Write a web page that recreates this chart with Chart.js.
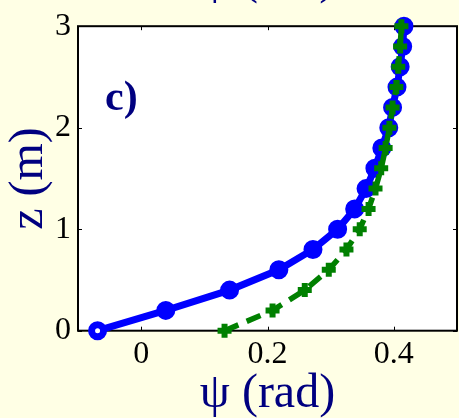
<!DOCTYPE html>
<html>
<head>
<meta charset="utf-8">
<script src="https://cdn.jsdelivr.net/npm/chart.js@4/dist/chart.umd.min.js"></script>
<style>
  html, body { margin: 0; padding: 0; background: #ffffe5; overflow: hidden; }
  #wrap { width: 459px; height: 418px; overflow: hidden; }
</style>
</head>
<body>
<div id="wrap"><canvas id="myChart" width="470" height="418"></canvas></div>
<script>
// depth below the surface (m) and tilt angle psi (rad) at each depth
var depths = [0, 0.2, 0.4, 0.6, 0.8, 1.0, 1.2, 1.4, 1.6, 1.8, 2.0, 2.2, 2.4, 2.6, 2.8, 3.0];
var psiCircles = [-0.069, 0.039, 0.140, 0.218, 0.272, 0.311, 0.338, 0.356, 0.370, 0.381, 0.392, 0.398, 0.405, 0.410, 0.414, 0.416];
var psiCrosses = [0.132, 0.208, 0.259, 0.297, 0.325, 0.346, 0.360, 0.371, 0.380, 0.387, 0.393, 0.398, 0.404, 0.407, 0.410, 0.412];

var xTicks = [0, 0.2, 0.4];
var yTicks = [0, 1, 2, 3];
var xTitle = 'ψ (rad)';
var yTitle = 'z (m)';
var panelLabel = 'c)';

var navy = '#000080';
var serif = '"Liberation Serif", "Times New Roman", serif';

function toPoints(xs) {
  var pts = [];
  for (var i = 0; i < xs.length; i++) {
    pts.push({ x: xs[i], y: depths[i] });
  }
  return pts;
}

// first circle is drawn hollow
var circleFill = psiCircles.map(function (v, i) { return i === 0 ? '#ffffff' : '#0000ff'; });

// figure background, white axes, box with inward ticks, panel letter
var axesBox = {
  id: 'axesBox',
  beforeDraw: function (chart) {
    var ctx = chart.ctx, a = chart.chartArea;
    ctx.save();
    ctx.fillStyle = '#ffffe5';
    ctx.fillRect(0, 0, chart.width, chart.height);
    ctx.fillStyle = '#ffffff';
    ctx.fillRect(a.left, a.top, a.right - a.left, a.bottom - a.top);
    ctx.restore();
  },
  beforeDatasetsDraw: function (chart) {
    var ctx = chart.ctx, a = chart.chartArea;
    var xs = chart.scales.x, ys = chart.scales.y;
    ctx.save();
    ctx.strokeStyle = '#000';
    ctx.lineWidth = 1;
    ctx.beginPath();
    xTicks.forEach(function (v) {
      var px = Math.round(xs.getPixelForValue(v)) + 0.5;
      ctx.moveTo(px, a.bottom); ctx.lineTo(px, a.bottom - 4);
      ctx.moveTo(px, a.top); ctx.lineTo(px, a.top + 4);
    });
    yTicks.forEach(function (v) {
      var py = Math.round(ys.getPixelForValue(v)) + 0.5;
      ctx.moveTo(a.left, py); ctx.lineTo(a.left + 4, py);
      ctx.moveTo(a.right, py); ctx.lineTo(a.right - 4, py);
    });
    ctx.stroke();
    ctx.lineWidth = 2;
    ctx.strokeRect(a.left, a.top, a.right - a.left, a.bottom - a.top);
    ctx.restore();
  },
  afterDraw: function (chart) {
    var ctx = chart.ctx, a = chart.chartArea;
    ctx.save();
    ctx.fillStyle = navy;
    ctx.textBaseline = 'alphabetic';
    ctx.font = 'bold 42px ' + serif;
    ctx.textAlign = 'left';
    ctx.fillText(panelLabel, 105, 110);
    // the axis title of the panel above, mostly off the top edge
    ctx.font = '48px ' + serif;
    ctx.textAlign = 'center';
    ctx.fillText(xTitle, (a.left + a.right) / 2, -7);
    ctx.restore();
  }
};

var ctx = document.getElementById('myChart').getContext('2d');
var myChart = new Chart(ctx, {
  type: 'scatter',
  data: {
    datasets: [{
      label: 'circles',
      data: toPoints(psiCircles),
      showLine: true,
      borderColor: '#0000ff',
      borderWidth: 7,
      pointStyle: 'circle',
      pointRadius: 6,
      pointBorderWidth: 7,
      pointBorderColor: '#0000ff',
      pointBackgroundColor: circleFill,
      clip: false,
      order: 2
    },
    {
      label: 'crosses',
      data: toPoints(psiCrosses),
      showLine: true,
      borderColor: '#008000',
      borderWidth: 5.5,
      borderDash: [15, 9],
      pointStyle: 'cross',
      pointRadius: 7,
      pointBorderWidth: 6,
      pointBorderColor: '#008000',
      pointBackgroundColor: '#008000',
      clip: false,
      order: 1
    }]
  },
  options: {
    responsive: false,
    animation: false,
    devicePixelRatio: 1,
    layout: { padding: { top: 22.7, right: 1, left: 0, bottom: 0 } },
    elements: { line: { tension: 0 } },
    plugins: {
      legend: { display: false },
      tooltip: { enabled: false }
    },
    scales: {
      x: {
        type: 'linear',
        min: -0.1,
        max: 0.5,
        grid: { display: false, drawTicks: false },
        border: { display: false },
        afterBuildTicks: function (scale) {
          scale.ticks = xTicks.map(function (v) { return { value: v }; });
        },
        afterFit: function (scale) { scale.height = 87.3; },
        ticks: {
          color: '#000',
          padding: 5,
          maxRotation: 0,
          font: { family: serif, size: 32 },
          callback: function (v) { return v === 0 ? '0' : v.toFixed(1); }
        },
        title: {
          display: true,
          text: xTitle,
          color: navy,
          padding: { top: 0, bottom: 0 },
          font: { family: serif, size: 48, lineHeight: 1 }
        }
      },
      y: {
        type: 'linear',
        min: 0,
        max: 3,
        grid: { display: false, drawTicks: false },
        border: { display: false },
        afterBuildTicks: function (scale) {
          scale.ticks = yTicks.map(function (v) { return { value: v }; });
        },
        afterFit: function (scale) { scale.width = 78; },
        ticks: {
          color: '#000',
          padding: 7,
          font: { family: serif, size: 32 },
          callback: function (v) { return String(v); }
        },
        title: {
          display: true,
          text: yTitle,
          color: navy,
          padding: { top: 5, bottom: 0 },
          font: { family: serif, size: 48, lineHeight: 1 }
        }
      }
    }
  },
  plugins: [axesBox]
});
</script>
</body>
</html>
